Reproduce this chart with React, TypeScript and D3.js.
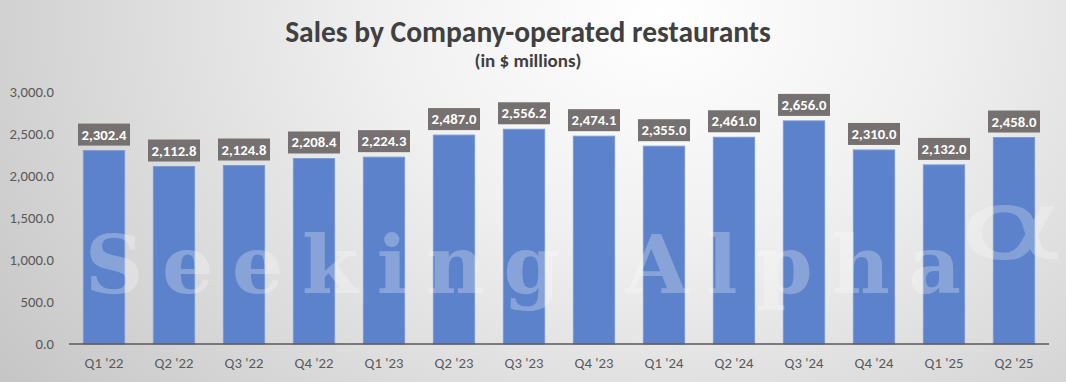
import React from "react";
import * as d3 from "d3";

const categories = ["Q1 '22", "Q2 '22", "Q3 '22", "Q4 '22", "Q1 '23", "Q2 '23", "Q3 '23", "Q4 '23", "Q1 '24", "Q2 '24", "Q3 '24", "Q4 '24", "Q1 '25", "Q2 '25"];
const sales = [2302.4, 2112.8, 2124.8, 2208.4, 2224.3, 2487.0, 2556.2, 2474.1, 2355.0, 2461.0, 2656.0, 2310.0, 2132.0, 2458.0];
const yTicks = [0, 500, 1000, 1500, 2000, 2500, 3000];

const W = 1066, H = 382;
const left = 69, right = 1049, top = 92, bottom = 344;

export default function App() {
  const x = d3.scaleBand<string>().domain(categories).range([left, right]).paddingInner(0.41).paddingOuter(0.205);
  const y = d3.scaleLinear().domain([0, 3000]).range([bottom, top]);
  const fmt = d3.format(",.1f");
  const font = "Calibri, Carlito, 'Open Sans', 'Noto Sans', sans-serif";
  return (
    <svg width={W} height={H} style={{ position: "absolute", left: 0, top: 0 }} fontFamily={font}>
      <defs>
        <radialGradient id="bg" cx="0.62" cy="0.05" r="0.75" gradientTransform="translate(0.62 0.05) scale(1 2.2) translate(-0.62 -0.05)">
          <stop offset="0" stopColor="#ffffff" />
          <stop offset="0.35" stopColor="#f0f0f0" />
          <stop offset="1" stopColor="#c6c6c6" />
        </radialGradient>
      </defs>
      <rect x={0} y={0} width={W} height={H} fill="url(#bg)" />
      <text x={528} y={42} textAnchor="middle" fontSize={29.5} fontWeight="bold" fill="#404040">Sales by Company-operated restaurants</text>
      <text x={528} y={67} textAnchor="middle" fontSize={19} fontWeight="bold" fill="#404040">(in $ millions)</text>
      {yTicks.map(t => (
        <text key={t} x={54} y={y(t) + 5} textAnchor="end" fontSize={14.7} fill="#595959">{fmt(t)}</text>
      ))}
      {categories.map((c, i) => (
        <rect key={c} x={x(c)} y={y(sales[i])} width={x.bandwidth()} height={bottom - y(sales[i])} fill="#5b82ca" stroke="#7a9ad6" strokeWidth={1} />
      ))}
      <text x={85} y={293} fontSize={81} fontWeight="bold" fontFamily="'DejaVu Serif', 'Liberation Serif', serif" fill="#ffffff" fillOpacity={0.27} textLength={876} lengthAdjust="spacing">Seeking Alpha</text>
      <text transform="translate(958 259) scale(1.7 1)" x={0} y={0} fontSize={96} fontFamily="'DejaVu Sans', sans-serif" fill="#ffffff" fillOpacity={0.25}>α</text>
      <line x1={left} x2={right} y1={bottom} y2={bottom} stroke="#595959" strokeWidth={1.5} />
      {categories.map(c => (
        <text key={c} x={x(c)! + x.bandwidth() / 2} y={368} textAnchor="middle" fontSize={14.7} fill="#595959">{c}</text>
      ))}
      {categories.map((c, i) => {
        const cx = x(c)! + x.bandwidth() / 2;
        const by = y(sales[i]);
        const bw = 52, bh = 22;
        return (
          <g key={c}>
            <rect x={cx - bw / 2} y={by - 5 - bh} width={bw} height={bh} fill="#767171" />
            <text x={cx} y={by - 5 - bh / 2 + 5} textAnchor="middle" fontSize={14.7} fontWeight="bold" fill="#ffffff">{fmt(sales[i])}</text>
          </g>
        );
      })}
    </svg>
  );
}
